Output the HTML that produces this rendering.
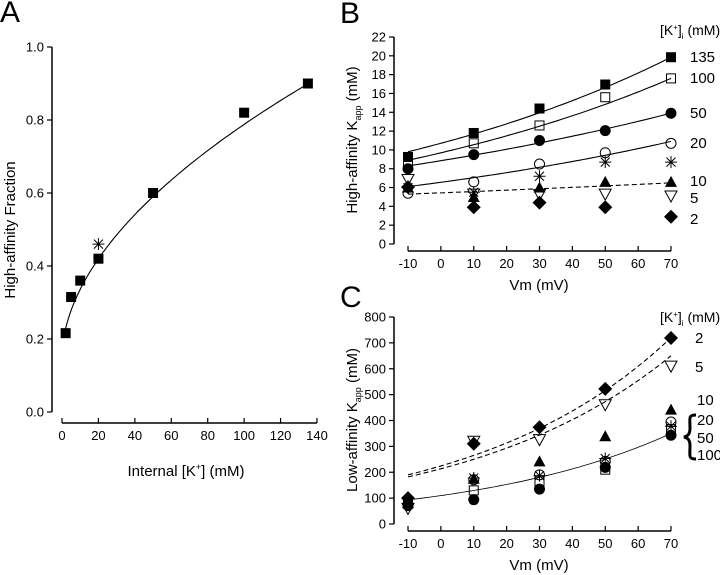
<!DOCTYPE html>
<html><head><meta charset="utf-8"><style>
html,body{margin:0;padding:0;background:#fff}
svg{display:block;font-family:"Liberation Sans",Arial,sans-serif}
</style></head><body>
<svg id="fig" width="720" height="575" viewBox="0 0 720 575" xmlns="http://www.w3.org/2000/svg"></svg>
<script>
// ---- Panel A data ----
const aK = [2, 5, 10, 20, 50, 100, 135];
const aFrac = [0.216, 0.315, 0.36, 0.42, 0.60, 0.82, 0.90];
const aStarK = [20];
const aStarFrac = [0.46];
const aXTicks = [0, 20, 40, 60, 80, 100, 120, 140];
const aYTicks = [0.0, 0.2, 0.4, 0.6, 0.8, 1.0];
const aFit = [0.15, 0.0543, 0.535]; // c + a*x^p

// ---- Panel B data ----
const vm = [-10, 10, 30, 50, 70];
const vmTicks = [-10, 0, 10, 20, 30, 40, 50, 60, 70];
const bYTicks = [0, 2, 4, 6, 8, 10, 12, 14, 16, 18, 20, 22];
const b135 = [9.25, 11.8, 14.4, 16.95, 19.85];
const b100 = [8.5, 10.7, 12.6, 15.6, 17.6];
const b50 = [8.0, 9.5, 11.0, 12.05, 13.9];
const b20 = [5.4, 6.6, 8.5, 9.7, 10.7];
const bStar = [6.0, 5.5, 7.2, 8.7, 8.7];
const b10 = [6.0, 5.0, 6.0, 6.6, 6.6];
const b5 = [6.85, 5.3, 5.25, 5.3, 5.1];
const b2 = [6.05, 3.9, 4.4, 3.9, 2.9];
const bFit135 = [9.8, 19.85];
const bFit100 = [8.9, 17.6];
const bFit50 = [8.3, 13.9];
const bFit20 = [6.1, 10.9];
const bFitLow = [5.3, 6.5];

// ---- Panel C data ----
const cYTicks = [0, 100, 200, 300, 400, 500, 600, 700, 800];
const c2 = [100, 310, 374, 522, 719];
const c5 = [60, 320, 326, 461, 610];
const c10 = [80, 175, 242, 339, 442];
const c20 = [75, 171, 190, 242, 394];
const cStar = [80, 178, 187, 253, 378];
const c50 = [71, 94, 135, 219, 343];
const c100 = [88, 130, 165, 210, 367];
const cFit2 = [190, 720];
const cFit5 = [182, 650];
const cFitMain = [93, 350];

const NS = "http://www.w3.org/2000/svg";
const svg = document.getElementById('fig');
function el(tag, attrs, parent) {
  const e = document.createElementNS(NS, tag);
  for (const k in attrs) e.setAttribute(k, attrs[k]);
  (parent || svg).appendChild(e);
  return e;
}
function txt(s, x, y, size, anchor, parent, rot) {
  const t = el('text', {x: x, y: y, 'font-size': size, 'text-anchor': anchor || 'middle', fill: '#000'}, parent);
  if (rot) t.setAttribute('transform', 'rotate(-90 ' + x + ' ' + y + ')');
  t.textContent = s;
  return t;
}
function lin(d0, d1, p0, p1) { return v => p0 + (v - d0) * (p1 - p0) / (d1 - d0); }

function marker(type, x, y, g) {
  const s = 5;
  let m;
  if (type === 'sqF') m = el('rect', {x: x - s, y: y - s, width: 2 * s, height: 2 * s, fill: '#000'}, g);
  else if (type === 'sqO') m = el('rect', {x: x - s + 0.5, y: y - s + 0.5, width: 2 * s - 1, height: 2 * s - 1, fill: 'none', stroke: '#000', 'stroke-width': 1}, g);
  else if (type === 'ciF') m = el('circle', {cx: x, cy: y, r: s + 0.5, fill: '#000'}, g);
  else if (type === 'ciO') m = el('circle', {cx: x, cy: y, r: s, fill: 'none', stroke: '#000', 'stroke-width': 1}, g);
  else if (type === 'triF') m = el('polygon', {points: `${x},${y - 6} ${x - 6},${y + 5} ${x + 6},${y + 5}`, fill: '#000'}, g);
  else if (type === 'triO') m = el('polygon', {points: `${x},${y + 6} ${x - 6},${y - 5} ${x + 6},${y - 5}`, fill: 'none', stroke: '#000', 'stroke-width': 1}, g);
  else if (type === 'dia') m = el('polygon', {points: `${x},${y - 7} ${x + 7},${y} ${x},${y + 7} ${x - 7},${y}`, fill: '#000'}, g);
  else if (type === 'star') {
    m = el('path', {d: `M${x - 6},${y}H${x + 6}M${x},${y - 6}V${y + 6}M${x - 4.5},${y - 4.5}L${x + 4.5},${y + 4.5}M${x - 4.5},${y + 4.5}L${x + 4.5},${y - 4.5}`, stroke: '#000', 'stroke-width': 1, fill: 'none'}, g);
  }
  return m;
}

function axes(g, xs, ys, xTicks, yTicks, xAxisY, yAxisX, xFmt, yFmt) {
  const xa = el('line', {x1: xs(xTicks[0]), x2: xs(xTicks[xTicks.length - 1]), y1: xAxisY, y2: xAxisY, stroke: '#000', 'stroke-width': 1.5}, g);
  
  
  xTicks.forEach(t => {
    el('line', {x1: xs(t), x2: xs(t), y1: xAxisY, y2: xAxisY - 5, stroke: '#000', 'stroke-width': 1.2}, g);
    const l = txt(xFmt(t), xs(t), xAxisY + 17, 13, 'middle', g);
    
    
  });
  const ya = el('line', {x1: yAxisX, x2: yAxisX, y1: ys(yTicks[0]), y2: ys(yTicks[yTicks.length - 1]), stroke: '#000', 'stroke-width': 1.5}, g);
  
  
  yTicks.forEach(t => {
    el('line', {x1: yAxisX - 5, x2: yAxisX, y1: ys(t), y2: ys(t), stroke: '#000', 'stroke-width': 1.2}, g);
    const l = txt(yFmt(t), yAxisX - 8, ys(t) + 4.5, 13, 'end', g);
    
    
  });
}
function series(g, name, type, xsArr, ysArr, xs, ys) {
  const sg = el('g', {}, g);
  
  
  xsArr.forEach((v, i) => {
    const m = marker(type, xs(v), ys(ysArr[i]), sg);
    
    
  });
}
function expCurve(g, name, ends, x0, x1, xs, ys, dashed, w) {
  const k = Math.log(ends[1] / ends[0]) / (x1 - x0);
  let d = '';
  for (let i = 0; i <= 60; i++) {
    const v = x0 + (x1 - x0) * i / 60;
    const y = ends[0] * Math.exp(k * (v - x0));
    d += (i ? 'L' : 'M') + xs(v).toFixed(1) + ',' + ys(y).toFixed(1);
  }
  const p = el('path', {d: d, fill: 'none', stroke: '#000', 'stroke-width': w || 1.1}, g);
  if (dashed) p.setAttribute('stroke-dasharray', '5,3');
  
  
}

// ===== Panel A =====
const gA = el('g', {});


const axA = lin(0, 140, 62, 317), ayA = lin(0, 1, 412, 47);
const la = txt('A', 0, 22, 30, 'start', gA);


axes(gA, axA, ayA, aXTicks, aYTicks, 423, 52, t => String(t), t => t.toFixed(1));
(function () {
  let d = '';
  for (let i = 0; i <= 100; i++) {
    const x = 2 + (135 - 2) * Math.pow(i / 100, 1.6);
    const y = aFit[0] + aFit[1] * Math.pow(x, aFit[2]);
    d += (i ? 'L' : 'M') + axA(x).toFixed(1) + ',' + ayA(y).toFixed(1);
  }
  const p = el('path', {d: d, fill: 'none', stroke: '#000', 'stroke-width': 1.1}, gA);
  
  
})();
series(gA, 'fraction-series', 'sqF', aK, aFrac, axA, ayA);
series(gA, 'fraction-star', 'star', aStarK, aStarFrac, axA, ayA);
let t1 = txt('High-affinity Fraction', 15, 230, 15, 'middle', gA, true);


t1 = el('text', {x: 186, y: 476, 'font-size': 15, 'text-anchor': 'middle'}, gA);
t1.innerHTML = 'Internal [K<tspan font-size="9" dy="-6">+</tspan><tspan dy="6">] (mM)</tspan>';



// ===== Panel B =====
const gB = el('g', {});


const axB = lin(-10, 70, 408, 671), ayB = lin(0, 22, 244, 37);
const lb = txt('B', 340, 23, 30, 'start', gB);


axes(gB, axB, ayB, vmTicks, bYTicks, 251, 394, t => String(t), t => String(t));
expCurve(gB, 'fit-135', bFit135, -10, 70, axB, ayB);
expCurve(gB, 'fit-100', bFit100, -10, 70, axB, ayB);
expCurve(gB, 'fit-50', bFit50, -10, 70, axB, ayB);
expCurve(gB, 'fit-20', bFit20, -10, 70, axB, ayB);
expCurve(gB, 'fit-low', bFitLow, -10, 70, axB, ayB, true);
series(gB, 'series-135', 'sqF', vm, b135, axB, ayB);
series(gB, 'series-100', 'sqO', vm, b100, axB, ayB);
series(gB, 'series-50', 'ciF', vm, b50, axB, ayB);
series(gB, 'series-20', 'ciO', vm, b20, axB, ayB);
series(gB, 'series-star', 'star', vm, bStar, axB, ayB);
series(gB, 'series-10', 'triF', vm, b10, axB, ayB);
series(gB, 'series-5', 'triO', vm, b5, axB, ayB);
series(gB, 'series-2', 'dia', vm, b2, axB, ayB);
t1 = el('text', {x: 357, y: 140, 'font-size': 15, 'text-anchor': 'middle', transform: 'rotate(-90 357 140)'}, gB);
t1.innerHTML = 'High-affinity K<tspan font-size="9" dy="4">app</tspan><tspan dy="-4"> (mM)</tspan>';


t1 = txt('Vm (mV)', 539, 290, 15, 'middle', gB);


t1 = el('text', {x: 660, y: 35, 'font-size': 14, 'text-anchor': 'start'}, gB);
t1.innerHTML = '[K<tspan font-size="8" dy="-5">+</tspan><tspan dy="5">]</tspan><tspan font-size="8" dy="4">i</tspan><tspan dy="-4"> (mM)</tspan>';


[['135', 62], ['100', 83], ['50', 118], ['20', 148], ['10', 186], ['5', 203], ['2', 224]].forEach(a => {
  const l = txt(a[0], 690, a[1], 15, 'start', gB);
  
  
});

// ===== Panel C =====
const gC = el('g', {});


const axC = lin(-10, 70, 408, 671), ayC = lin(0, 800, 524, 317);
const lc = txt('C', 340, 307, 30, 'start', gC);


axes(gC, axC, ayC, vmTicks, cYTicks, 531, 394, t => String(t), t => String(t));
expCurve(gC, 'fit-2', cFit2, -10, 70, axC, ayC, true);
expCurve(gC, 'fit-5', cFit5, -10, 70, axC, ayC, true);
expCurve(gC, 'fit-main', cFitMain, -10, 70, axC, ayC, false, 0.8);
series(gC, 'series-100', 'sqO', vm, c100, axC, ayC);
series(gC, 'series-50', 'ciF', vm, c50, axC, ayC);
series(gC, 'series-20', 'ciO', vm, c20, axC, ayC);
series(gC, 'series-star', 'star', vm, cStar, axC, ayC);
series(gC, 'series-10', 'triF', vm, c10, axC, ayC);
series(gC, 'series-5', 'triO', vm, c5, axC, ayC);
series(gC, 'series-2', 'dia', vm, c2, axC, ayC);
t1 = el('text', {x: 357, y: 420, 'font-size': 15, 'text-anchor': 'middle', transform: 'rotate(-90 357 420)'}, gC);
t1.innerHTML = 'Low-affinity K<tspan font-size="9" dy="4">app</tspan><tspan dy="-4"> (mM)</tspan>';


t1 = txt('Vm (mV)', 539, 570, 15, 'middle', gC);


t1 = el('text', {x: 660, y: 322, 'font-size': 14, 'text-anchor': 'start'}, gC);
t1.innerHTML = '[K<tspan font-size="8" dy="-5">+</tspan><tspan dy="5">]</tspan><tspan font-size="8" dy="4">i</tspan><tspan dy="-4"> (mM)</tspan>';


[['2', 343, 695], ['5', 372, 695], ['10', 405, 697], ['20', 425, 697], ['50', 443, 697], ['100', 460, 697]].forEach(a => {
  const l = txt(a[0], a[2], a[1], 15, 'start', gC);
  
  
});
const br = el('path', {d: 'M696,415 C688,415 690,418 690,428 C690,434 688,436 684,437 C688,438 690,440 690,446 C690,456 688,459 696,459', fill: 'none', stroke: '#000', 'stroke-width': 3}, gC);


</script>
</body></html>
